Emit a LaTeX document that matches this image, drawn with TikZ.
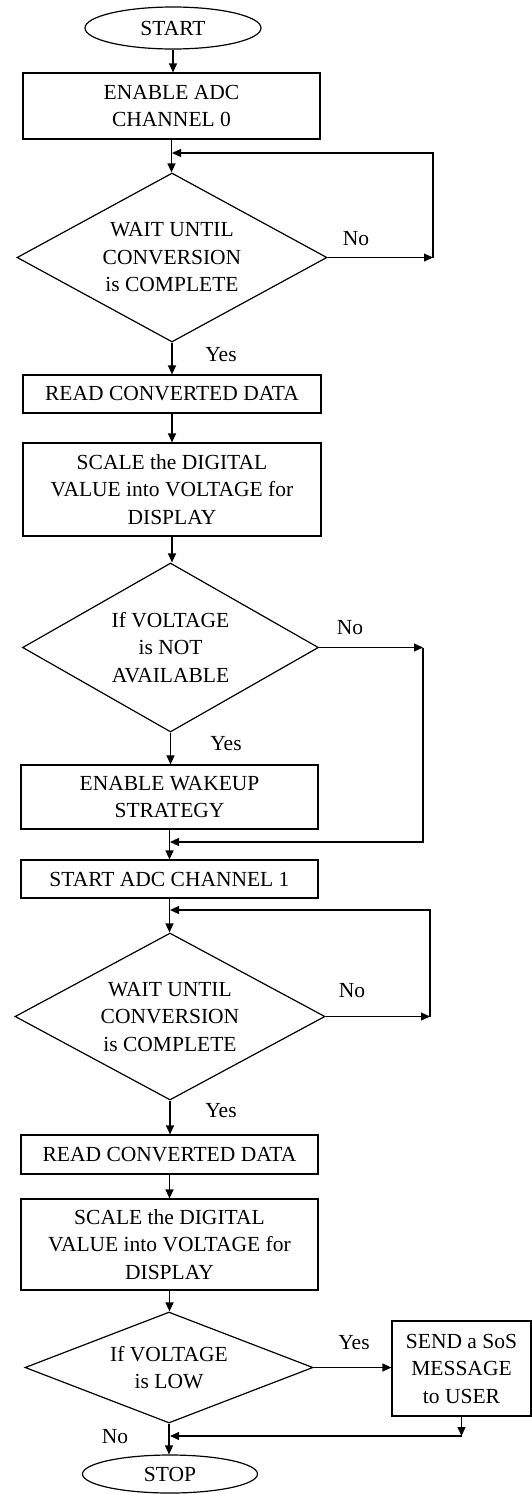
\documentclass[tikz,border=0pt]{standalone}
\usepackage{fontspec}
\setmainfont{Liberation Serif}
\usetikzlibrary{shapes.geometric,arrows.meta}

\begin{document}
\begin{tikzpicture}[x=1pt,y=-1pt,
  every node/.style={font=\fontsize{21.5}{27.5}\selectfont, text=black},
  flow/.style={line width=1.2pt, draw=black},
  arr/.style={flow, -{Triangle[length=9pt,width=8pt]}},
  procbox/.style={draw=black, line width=1.2pt, rectangle, inner sep=0pt, align=center},
  decide/.style={draw=black, line width=1.2pt, diamond, inner sep=0pt, aspect=2, align=center},
  term/.style={draw=black, line width=1.2pt, ellipse, inner sep=0pt},
  lbl/.style={inner sep=0pt}
]
\useasboundingbox (0,0) rectangle (532,1494);

% terminals, process boxes and decisions
\node[term, minimum width=176pt, minimum height=42pt] (start) at (173,28) {START};
\node[procbox, minimum width=297pt, minimum height=66pt] (b1) at (171.5,106) {ENABLE ADC\\CHANNEL 0};
\node[decide, minimum width=310pt, minimum height=169pt] (d1) at (172,257.5) {WAIT UNTIL\\CONVERSION\\is COMPLETE};
\node[procbox, minimum width=298pt, minimum height=38pt] (b2) at (172,394) {READ CONVERTED DATA};
\node[procbox, minimum width=298pt, minimum height=93pt] (b3) at (172,489.5) {SCALE the DIGITAL\\VALUE into VOLTAGE for\\DISPLAY};
\node[decide, minimum width=296pt, minimum height=169pt] (d2) at (170.5,647.5) {If VOLTAGE\\is NOT\\AVAILABLE};
\node[procbox, minimum width=297pt, minimum height=64pt] (b4) at (169.5,797) {ENABLE WAKEUP\\STRATEGY};
\node[procbox, minimum width=297pt, minimum height=38pt] (b5) at (169.5,879) {START ADC CHANNEL 1};
\node[decide, minimum width=310pt, minimum height=167pt] (d3) at (170,1016.5) {WAIT UNTIL\\CONVERSION\\is COMPLETE};
\node[procbox, minimum width=297pt, minimum height=39pt] (b6) at (169.5,1154.5) {READ CONVERTED DATA};
\node[procbox, minimum width=297pt, minimum height=91pt] (b7) at (169.5,1244.5) {SCALE the DIGITAL\\VALUE into VOLTAGE for\\DISPLAY};
\node[decide, aspect=2.6, minimum width=288pt, minimum height=111pt] (d4) at (169,1367.5) {If VOLTAGE\\is LOW};
\node[procbox, minimum width=139pt, minimum height=95pt] (sos) at (461.5,1368.5) {SEND a SoS\\MESSAGE\\to USER};
\node[term, minimum width=175pt, minimum height=38pt] (stop) at (170,1474) {STOP};

% junction points of the return paths
\coordinate (m1) at (172,153);
\coordinate (r1) at (433,153);
\coordinate (m2) at (170,842);
\coordinate (r2) at (423,842);
\coordinate (m3) at (170,910);
\coordinate (r3) at (430,910);
\coordinate (m4) at (170,1436);

% main downward flow
\draw[arr] (start.south) -- (start.south |- b1.north);
\draw[arr] (b1.south) -- (b1.south |- d1.north);
\draw[arr] (d1.south) -- (d1.south |- b2.north);
\draw[arr] (b2.south) -- (b2.south |- b3.north);
\draw[arr] (b3.south) -- (b3.south |- d2.north);
\draw[arr] (d2.south) -- (d2.south |- b4.north);
\draw[arr] (b4.south) -- (b4.south |- b5.north);
\draw[arr] (b5.south) -- (b5.south |- d3.north);
\draw[arr] (d3.south) -- (d3.south |- b6.north);
\draw[arr] (b6.south) -- (b6.south |- b7.north);
\draw[arr] (b7.south) -- (b7.south |- d4.north);
\draw[arr] (d4.south) -- (d4.south |- stop.north);

% first wait loop
\draw[arr] (d1.east) -- (d1.east -| r1);
\draw[arr] (d1.east -| r1) -- (r1) -- (m1);

% skip of the wakeup step
\draw[arr] (d2.east) -- (d2.east -| r2);
\draw[arr] (d2.east -| r2) -- (r2) -- (m2);

% second wait loop
\draw[arr] (d3.east) -- (d3.east -| r3);
\draw[arr] (d3.east -| r3) -- (r3) -- (m3);

% SoS branch and its return
\draw[arr] (d4.east) -- (d4.east -| sos.west);
\draw[arr] (sos.south) -- (sos.south |- m4);
\draw[arr] (sos.south |- m4) -- (m4);

% branch labels
\node[lbl] (no1) at (356,239) {No};
\node[lbl] (yes1) at (221,355) {Yes};
\node[lbl] (no2) at (350,628) {No};
\node[lbl] (yes2) at (226,744) {Yes};
\node[lbl] (no3) at (352,991) {No};
\node[lbl] (yes3) at (221,1111) {Yes};
\node[lbl] (yes4) at (354,1343) {Yes};
\node[lbl] (no4) at (115,1437) {No};
\end{tikzpicture}
\end{document}
